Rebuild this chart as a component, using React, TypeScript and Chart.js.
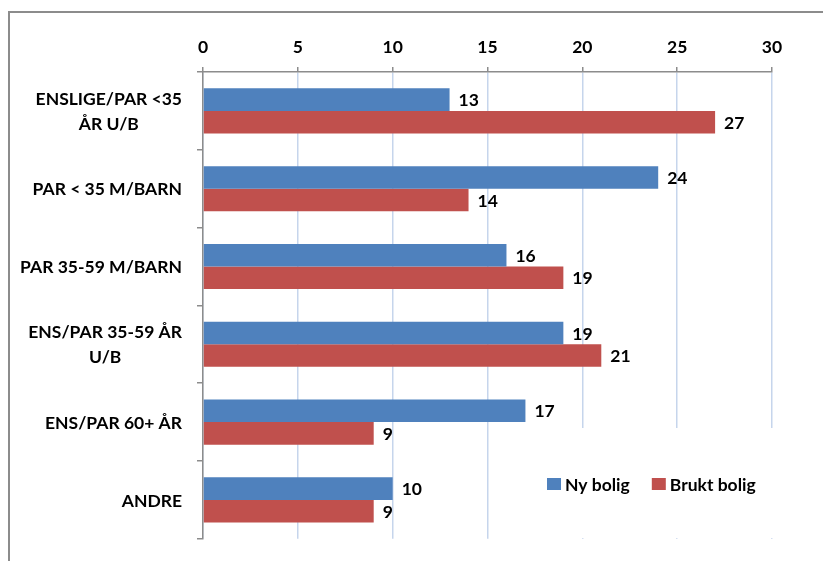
import React, { useEffect, useRef } from "react";
import { Chart, registerables } from "chart.js";

Chart.register(...registerables);

const categories: (string | string[])[] = [
  ["ENSLIGE/PAR <35", "ÅR U/B"],
  "PAR < 35 M/BARN",
  "PAR 35-59 M/BARN",
  ["ENS/PAR 35-59 ÅR", "U/B"],
  "ENS/PAR 60+ ÅR",
  "ANDRE",
];
const nyBolig = [13, 24, 16, 19, 17, 10];
const bruktBolig = [27, 14, 19, 21, 9, 9];
const seriesNames = ["Ny bolig", "Brukt bolig"];
const seriesColors = ["#4f81bd", "#c0504d"];
const xTicks = [0, 5, 10, 15, 20, 25, 30];

const FONT = "Lato, 'Open Sans', sans-serif";
const FS = 17.5;

const framePlugin = {
  id: "frame",
  beforeDraw(chart: any) {
    const ctx = chart.ctx;
    ctx.save();
    ctx.fillStyle = "#ffffff";
    ctx.fillRect(0, 0, chart.width, chart.height);
    ctx.strokeStyle = "#8c8c8c";
    ctx.lineWidth = 2;
    ctx.strokeRect(9, 12, chart.width + 20, chart.height + 20);
    ctx.restore();
  },
};

const yLabelPlugin = {
  id: "yLabels",
  afterDraw(chart: any) {
    const ctx = chart.ctx;
    const y = chart.scales.y;
    ctx.save();
    ctx.font = `bold ${FS}px ${FONT}`;
    ctx.fillStyle = "#000000";
    ctx.textBaseline = "middle";
    ctx.textAlign = "center";
    const right = y.right - 21;
    const lh = 25;
    categories.forEach((lab, i) => {
      const lines = Array.isArray(lab) ? lab : [lab];
      const w = Math.max(...lines.map((l) => ctx.measureText(l).width));
      const cx = right - w / 2;
      const cy = y.getPixelForValue(i);
      lines.forEach((l, k) => {
        ctx.fillText(l, cx, cy + (k - (lines.length - 1) / 2) * lh + 1);
      });
    });
    ctx.restore();
  },
};

const valueLabelPlugin = {
  id: "valueLabels",
  afterDatasetsDraw(chart: any) {
    const ctx = chart.ctx;
    ctx.save();
    ctx.font = `bold ${FS}px ${FONT}`;
    ctx.fillStyle = "#000000";
    ctx.textBaseline = "middle";
    ctx.textAlign = "left";
    chart.data.datasets.forEach((ds: any, di: number) => {
      const meta = chart.getDatasetMeta(di);
      meta.data.forEach((bar: any, i: number) => {
        ctx.fillText(String(ds.data[i]), bar.x + 9, bar.y + 1);
      });
    });
    ctx.restore();
  },
};

const legendPlugin = {
  id: "innerLegend",
  afterDraw(chart: any) {
    const ctx = chart.ctx;
    ctx.save();
    ctx.fillStyle = "#ffffff";
    ctx.fillRect(520, 428, 258, 110);
    ctx.font = `bold ${FS}px ${FONT}`;
    ctx.textBaseline = "middle";
    ctx.textAlign = "left";
    let x = 547;
    const cy = 484;
    chart.data.datasets.forEach((ds: any) => {
      ctx.fillStyle = ds.backgroundColor;
      ctx.fillRect(x, cy - 6, 14, 12);
      x += 18;
      ctx.fillStyle = "#000000";
      ctx.fillText(ds.label, x, cy + 1);
      x += ctx.measureText(ds.label).width + 22;
    });
    ctx.restore();
  },
};

export default function App() {
  const ref = useRef<HTMLCanvasElement>(null);
  useEffect(() => {
    if (!ref.current) return;
    const chart = new Chart(ref.current, {
      type: "bar",
      data: {
        labels: categories as any,
        datasets: [
          {
            label: seriesNames[0],
            data: nyBolig,
            backgroundColor: seriesColors[0],
            categoryPercentage: 0.58,
            barPercentage: 1,
          },
          {
            label: seriesNames[1],
            data: bruktBolig,
            backgroundColor: seriesColors[1],
            categoryPercentage: 0.58,
            barPercentage: 1,
          },
        ],
      },
      options: {
        indexAxis: "y",
        animation: false,
        responsive: false,
        maintainAspectRatio: false,
        layout: { padding: { left: 0, top: 0, right: 51, bottom: 21 } },
        plugins: {
          legend: { display: false },
          tooltip: { enabled: false },
        },
        scales: {
          x: {
            position: "top",
            min: 0,
            max: 30,
            afterBuildTicks: (s: any) => {
              s.ticks = xTicks.map((v) => ({ value: v }));
            },
            afterFit: (s: any) => {
              s.height = 72;
            },
            ticks: {
              color: "#000000",
              font: { family: FONT, size: FS, weight: "bold" },
              padding: 9,
            },
            grid: {
              color: "#c6d5ec",
              lineWidth: 1.5,
              tickColor: "#8c8c8c",
              tickLength: 5,
            },
            border: { color: "#8c8c8c", width: 1.5 },
          },
          y: {
            afterFit: (s: any) => {
              s.width = 203;
            },
            ticks: {
              color: "rgba(0,0,0,0)",
              font: { family: FONT, size: 16, weight: "bold" },
            },
            grid: {
              offset: true,
              drawOnChartArea: false,
              tickColor: "#8c8c8c",
              tickLength: 6,
              lineWidth: 1.5,
            },
            border: { color: "#8c8c8c", width: 1.5 },
          },
        },
      } as any,
      plugins: [framePlugin, yLabelPlugin, valueLabelPlugin, legendPlugin],
    });
    return () => chart.destroy();
  }, []);
  return (
    <div style={{ position: "fixed", left: 0, top: 0, width: 823, height: 561 }}>
      <canvas ref={ref} width={823} height={561} style={{ display: "block" }} />
    </div>
  );
}
